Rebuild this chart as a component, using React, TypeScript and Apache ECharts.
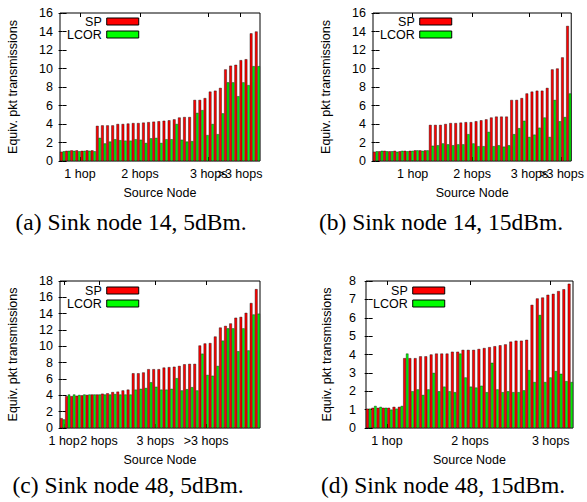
import React, { useEffect, useRef } from 'react';
import * as echarts from 'echarts';

// Panel (a) Sink node 14, 5dBm
const spA = [1.0, 1.1, 1.15, 1.15, 1.1, 1.15, 1.15,
  3.8, 3.85, 3.85, 3.85, 4.0, 4.0, 4.05, 4.1, 4.1, 4.15, 4.2, 4.25, 4.3, 4.35, 4.4, 4.5, 4.7, 4.75, 4.75,
  6.6, 6.6, 6.8, 7.5, 7.6, 7.9,
  9.9, 10.3, 10.4, 10.9, 11.0, 13.8, 14.0];
const lcA = [1.05, 1.1, 1.1, 1.05, 1.1, 1.1, 1.05,
  2.5, 1.9, 2.1, 2.35, 2.25, 2.2, 2.2, 2.35, 2.3, 1.95, 2.45, 2.5, 1.95, 2.35, 2.35, 4.0, 2.3, 2.1, 2.15,
  5.2, 5.5, 2.8, 4.0, 2.9, 5.15,
  8.5, 8.5, 7.0, 8.5, 8.2, 10.25, 10.25];
const tickPosA = [3.4, 15.1, 28.5, 34.6];

// Panel (b) Sink node 14, 15dBm
const spB = [1.0, 1.05, 1.1, 1.05, 1.1, 1.05, 1.1, 1.1, 1.15, 1.15, 1.15,
  3.9, 3.9, 3.9, 4.0, 4.1, 4.1, 4.15, 4.2, 4.2, 4.3, 4.4, 4.5, 4.7, 4.8, 4.8, 4.8,
  6.6, 6.6, 6.8, 7.3, 7.5, 7.6, 7.6, 7.9,
  9.9, 10.0, 11.2, 14.6];
const lcB = [1.05, 1.1, 1.05, 1.05, 1.0, 1.1, 1.05, 1.1, 1.15, 1.1, 1.15,
  1.65, 1.7, 1.9, 1.8, 1.7, 1.8, 1.8, 2.9, 1.9, 1.6, 1.6, 3.15, 1.6, 1.7, 1.55, 1.7,
  2.9, 3.55, 4.35, 2.6, 2.85, 3.6, 4.7, 2.6,
  6.6, 4.3, 4.75, 7.3];
const tickPosB = [7.3, 19.0, 30.3, 36.6];

// Panel (c) Sink node 48, 5dBm
const spC = [1.2,
  3.9, 3.9, 3.95, 4.0, 4.05, 4.1, 4.1, 4.2, 4.25, 4.4, 4.45, 4.6, 4.7,
  6.7, 6.7, 6.8, 7.2, 7.2, 7.2, 7.4, 7.45, 7.5, 7.6, 7.8, 7.85, 7.85,
  10.1, 10.35, 10.4, 11.2, 12.3, 12.5, 12.8, 13.5, 13.6, 14.1, 15.3, 17.0];
const lcC = [1.05,
  4.1, 4.1, 4.05, 4.1, 4.1, 4.1, 4.1, 4.1, 4.1, 4.15, 4.1, 4.1, 4.1,
  4.7, 4.8, 4.9, 5.6, 5.05, 4.7, 4.7, 4.8, 6.1, 4.6, 4.75, 5.0, 4.6,
  9.1, 6.5, 6.4, 7.6, 10.7, 12.2, 12.2, 9.4, 12.2, 9.5, 13.9, 14.0];
const tickPosC = [0.3, 7.1, 18.1, 28.0];

// Panel (d) Sink node 48, 15dBm
const spD = [1.05, 1.1, 1.1, 1.1, 1.1, 1.15, 1.15,
  3.8, 3.8, 3.8, 3.9, 3.9, 4.0, 4.05, 4.05, 4.05, 4.15, 4.15, 4.25, 4.25, 4.25, 4.3, 4.35, 4.4, 4.45, 4.5, 4.55, 4.7, 4.75, 4.75, 4.8,
  6.7, 7.05, 7.1, 7.25, 7.3, 7.45, 7.55, 7.85];
const lcD = [1.05, 1.2, 1.15, 1.1, 1.0, 1.05, 1.2,
  4.05, 2.0, 2.1, 1.8, 2.1, 3.0, 2.0, 2.25, 2.0, 1.95, 4.05, 2.75, 2.25, 2.2, 2.3, 1.95, 3.55, 2.1, 1.95, 2.0, 1.95, 1.95, 2.05, 3.15,
  2.5, 6.15, 2.5, 2.75, 3.1, 2.95, 2.55, 2.5];
const tickPosD = [3.45, 19.1, 34.3];

const hopLabels4 = ['1 hop', '2 hops', '3 hops', '>3 hops'];
const hopLabels3 = ['1 hop', '2 hops', '3 hops'];
const seriesNames = ['SP', 'LCOR'];
const captions = ['(a) Sink node 14, 5dBm.', '(b) Sink node 14, 15dBm.', '(c) Sink node 48, 5dBm.', '(d) Sink node 48, 15dBm.'];

const FONT = 'Liberation Sans, Arial, Helvetica, sans-serif';
const RED = '#ff0000';
const GREEN = '#00ff00';

const panels = [
  { sp: spA, lc: lcA, ticks: tickPosA, labels: hopLabels4, ymax: 16, yint: 2,
    grid: { left: 60, top: 13, width: 200, height: 148 }, legend: { left: 67, top: 15 }, yGap: 41, yMargin: 7, cap: { x: 131, y: 222 } },
  { sp: spB, lc: lcB, ticks: tickPosB, labels: hopLabels4, ymax: 16, yint: 2,
    grid: { left: 373, top: 13, width: 200, height: 148 }, legend: { left: 380, top: 15 }, yGap: 41, yMargin: 7, cap: { x: 441, y: 222 } },
  { sp: spC, lc: lcC, ticks: tickPosC, labels: hopLabels4, ymax: 18, yint: 2,
    grid: { left: 60, top: 281, width: 200, height: 147 }, legend: { left: 67, top: 284 }, yGap: 41, yMargin: 7, cap: { x: 128, y: 485 } },
  { sp: spD, lc: lcD, ticks: tickPosD, labels: hopLabels3, ymax: 8, yint: 1,
    grid: { left: 366, top: 281, width: 207, height: 147 }, legend: { left: 373, top: 284 }, yGap: 33, yMargin: 10, cap: { x: 443, y: 485 } },
];

export default function App() {
  const ref = useRef<HTMLDivElement>(null);
  useEffect(() => {
    if (!ref.current) return;
    const chart = echarts.init(ref.current, null, { renderer: 'svg' });
    const grid: any[] = [];
    const xAxis: any[] = [];
    const yAxis: any[] = [];
    const series: any[] = [];
    const legend: any[] = [];
    const graphic: any[] = [];
    panels.forEach((p, k) => {
      const n = p.sp.length;
      const cats = p.sp.map((_, i) => String(i + 1));
      grid.push({ ...p.grid, show: true, borderColor: '#000', borderWidth: 1, containLabel: false });
      // bars live on a category axis
      xAxis.push({
        type: 'category', gridIndex: k, data: cats, boundaryGap: true,
        axisLine: { show: false }, axisTick: { show: false }, axisLabel: { show: false },
      });
      // two label axes (even / odd labels) so overlapping labels are both kept, as in the original
      [0, 1].forEach((parity) => {
        const vals = p.ticks.filter((_, i) => i % 2 === parity);
        xAxis.push({
          type: 'value', gridIndex: k, min: -0.5, max: n - 0.5, position: 'bottom',
          splitLine: { show: false }, axisLine: { show: false },
          axisTick: { show: true, inside: true, length: 4, customValues: vals, lineStyle: { color: '#000' } },
          axisLabel: {
            show: true, customValues: vals, margin: 6, color: '#000', fontFamily: FONT, fontSize: 12.5,
            hideOverlap: false, showMinLabel: true, showMaxLabel: true,
            formatter: (v: number) => { const i = p.ticks.indexOf(v); return i >= 0 ? p.labels[i] : ''; },
          },
          name: parity === 0 ? 'Source Node' : '', nameLocation: 'middle', nameGap: 25,
          nameTextStyle: { color: '#000', fontFamily: FONT, fontSize: 12.5 },
        });
      });
      xAxis.push({
        type: 'value', gridIndex: k, min: -0.5, max: n - 0.5, position: 'top',
        splitLine: { show: false }, axisLine: { show: false }, axisLabel: { show: false },
        axisTick: { show: true, inside: true, length: 4, customValues: p.ticks, lineStyle: { color: '#000' } },
      });
      yAxis.push({
        type: 'value', gridIndex: k, min: 0, max: p.ymax, interval: p.yint, position: 'left',
        splitLine: { show: false }, axisLine: { show: false },
        axisTick: { show: true, inside: true, length: 4, lineStyle: { color: '#000' } },
        axisLabel: { color: '#000', fontFamily: FONT, fontSize: 12.5, margin: p.yMargin },
        name: 'Equiv. pkt transmissions', nameLocation: 'middle', nameGap: p.yGap,
        nameTextStyle: { color: '#000', fontFamily: FONT, fontSize: 12.5 },
      });
      yAxis.push({
        type: 'value', gridIndex: k, min: 0, max: p.ymax, interval: p.yint, position: 'right',
        splitLine: { show: false }, axisLine: { show: false }, axisLabel: { show: false },
        axisTick: { show: true, inside: true, length: 4, lineStyle: { color: '#000' } },
      });
      series.push({
        type: 'bar', name: seriesNames[0], xAxisIndex: k * 4, yAxisIndex: k * 2, data: p.sp,
        barWidth: '52%', barGap: '0%',
        itemStyle: { color: RED, borderColor: '#000', borderWidth: 0.4 },
      });
      series.push({
        type: 'bar', name: seriesNames[1], xAxisIndex: k * 4, yAxisIndex: k * 2, data: p.lc,
        barWidth: '46%', barGap: '0%',
        itemStyle: { color: GREEN, borderColor: '#000', borderWidth: 0.4 },
      });
      legend.push({
        data: seriesNames, orient: 'vertical', align: 'right', left: p.legend.left, top: p.legend.top,
        padding: 0, itemGap: 0, itemWidth: 32, itemHeight: 7, icon: 'rect', selectedMode: false,
        itemStyle: { borderColor: '#000', borderWidth: 1 },
        textStyle: { color: '#000', fontFamily: FONT, fontSize: 12.5 },
      });
      graphic.push({
        type: 'text', x: p.cap.x, y: p.cap.y,
        style: { text: captions[k], fill: '#000', font: '23.5px "Liberation Serif", "Times New Roman", serif', textAlign: 'center', textVerticalAlign: 'middle' },
      });
    });
    chart.setOption({ animation: false, backgroundColor: '#fff', grid, xAxis, yAxis, series, legend, graphic });
    return () => chart.dispose();
  }, []);
  return <div ref={ref} style={{ position: 'absolute', left: 0, top: 0, width: 587, height: 502 }} />;
}
